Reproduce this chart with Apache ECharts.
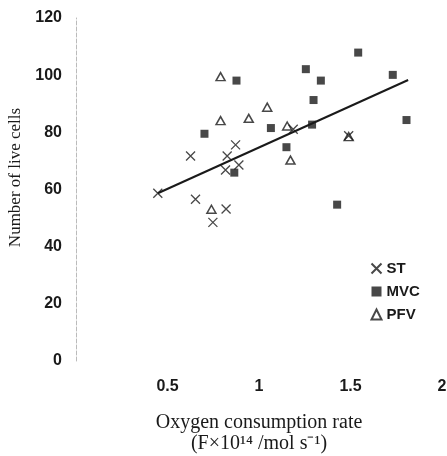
<!DOCTYPE html>
<html>
<head>
<meta charset="utf-8">
<script src="https://cdn.jsdelivr.net/npm/echarts@6/dist/echarts.min.js"></script>
<style>
  html, body { margin: 0; padding: 0; background: #fff; }
  #chart { width: 447px; height: 456px; }
</style>
</head>
<body>
<div id="chart"></div>
<script>
// 数据
const stX = [0.447, 0.626, 0.653, 0.748, 0.817, 0.82, 0.826, 0.872, 0.89, 1.187, 1.49];
const stY = [58.7, 71.7, 56.6, 48.5, 66.8, 53.2, 71.7, 75.6, 68.6, 81.1, 78.8];

const mvcX = [0.702, 0.865, 0.877, 1.065, 1.15, 1.256, 1.29, 1.298, 1.338, 1.427, 1.542, 1.731, 1.806];
const mvcY = [79.5, 65.9, 98.1, 81.5, 74.8, 102.1, 82.7, 91.3, 98.1, 54.7, 107.9, 100.1, 84.3];

const pfvX = [0.74, 0.79, 0.79, 0.944, 1.045, 1.154, 1.172, 1.49];
const pfvY = [53.1, 99.5, 84.1, 84.9, 88.8, 82.2, 70.3, 78.5];

// 回归直线两端
const trendX = [0.447, 1.815];
const trendY = [58.7, 98.3];

const yTicks = [0, 20, 40, 60, 80, 100, 120];
const xTicks = [0.5, 1, 1.5, 2];

const pairs = (xs, ys) => xs.map((x, i) => [x, ys[i]]);

const ink = '#1a1a1a';
const sans = 'Liberation Sans, Arial, sans-serif';
const serif = 'Liberation Serif, Times New Roman, serif';

const chart = echarts.init(document.getElementById('chart'));
chart.setOption({
    animation: false,
    backgroundColor: '#fff',
    grid: { left: 76, right: 5, top: 18, bottom: 95, outerBoundsMode: 'none', containLabel: false },
    legend: {
        orient: 'vertical',
        left: 364,
        top: 256,
        itemWidth: 10,
        itemHeight: 10,
        itemGap: 8,
        textStyle: { color: ink, fontFamily: sans, fontWeight: 'bold', fontSize: 15 },
        data: ['ST', 'MVC', 'PFV']
    },
    xAxis: {
        type: 'value',
        min: 0,
        max: 2,
        interval: 0.5,
        axisLine: { show: false },
        axisTick: { show: false },
        splitLine: { show: false },
        axisLabel: {
            color: ink, fontFamily: sans, fontWeight: 'bold', fontSize: 16, margin: 18,
            formatter: v => xTicks.includes(v) ? String(v) : ''
        },
        name: 'Oxygen consumption rate\n(F×10¹⁴ /mol s⁻¹)',
        nameLocation: 'middle',
        nameGap: 51,
        nameTextStyle: { color: ink, fontFamily: serif, fontSize: 20, lineHeight: 21 }
    },
    yAxis: {
        type: 'value',
        min: 0,
        max: 120,
        interval: 20,
        axisLine: { show: true, lineStyle: { color: '#bbb', type: 'dashed', width: 1 } },
        axisTick: { show: false },
        splitLine: { show: false },
        axisLabel: {
            color: ink, fontFamily: sans, fontWeight: 'bold', fontSize: 16, margin: 14,
            formatter: v => yTicks.includes(v) ? String(v) : ''
        },
        name: 'Number of live cells',
        nameLocation: 'middle',
        nameGap: 50,
        nameTextStyle: { color: ink, fontFamily: serif, fontSize: 17, padding: [0, 0, 0, 24] }
    },
    series: [
        {
            name: 'trend',
            type: 'line',
            data: pairs(trendX, trendY),
            symbol: 'none',
            lineStyle: { color: ink, width: 2 },
            silent: true,
            z: 1
        },
        {
            name: 'ST',
            type: 'scatter',
            data: pairs(stX, stY),
            symbol: 'path://M0,0L10,10M10,0L0,10',
            symbolSize: 9,
            itemStyle: { color: 'none', borderColor: ink, borderWidth: 1.3 },
            z: 3
        },
        {
            name: 'MVC',
            type: 'scatter',
            data: pairs(mvcX, mvcY),
            symbol: 'rect',
            symbolSize: 8,
            itemStyle: { color: ink },
            z: 3
        },
        {
            name: 'PFV',
            type: 'scatter',
            data: pairs(pfvX, pfvY),
            symbol: 'triangle',
            symbolSize: [9, 8],
            itemStyle: { color: '#fff', borderColor: ink, borderWidth: 1.5 },
            z: 2
        }
    ]
});
</script>
</body>
</html>
